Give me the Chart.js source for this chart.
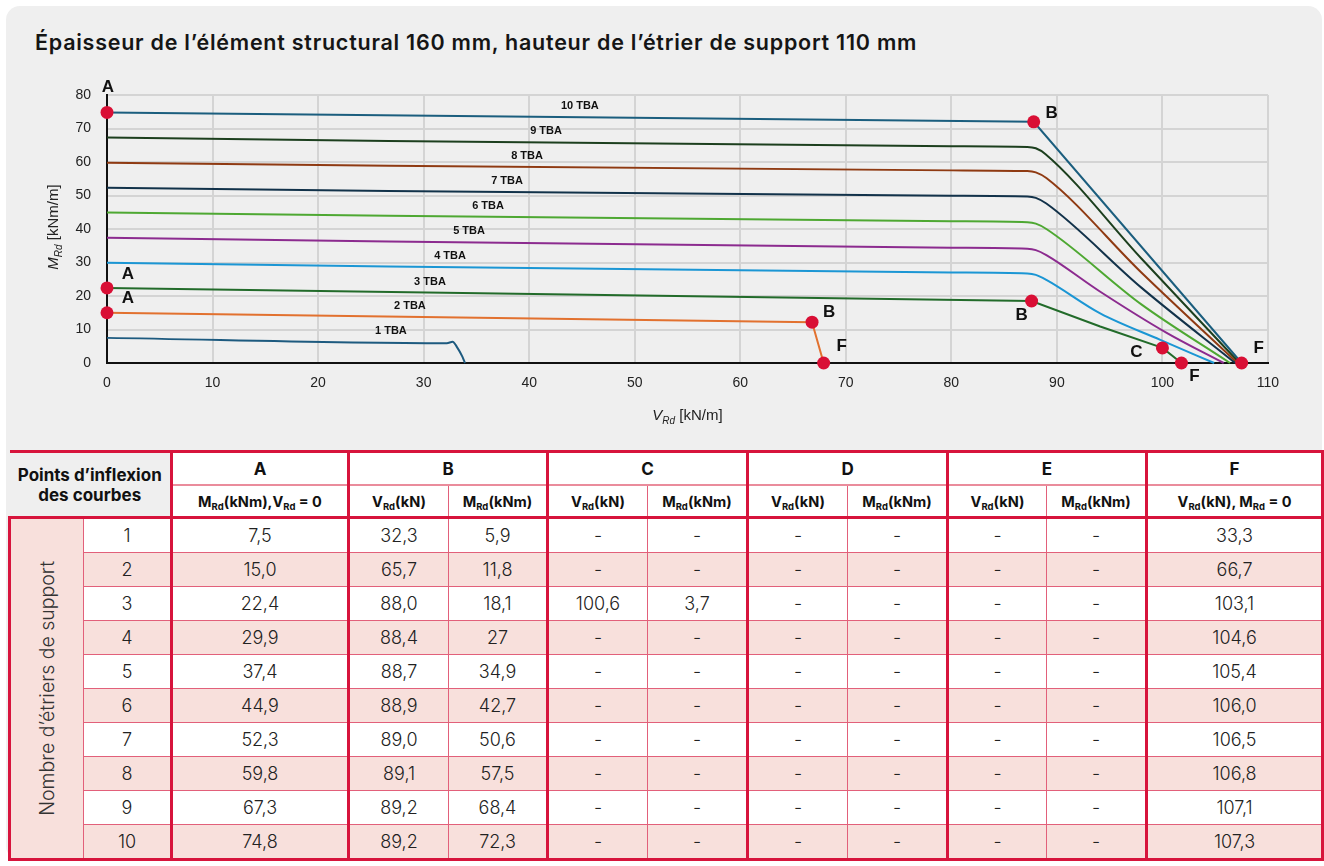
<!DOCTYPE html>
<html lang="fr">
<head>
<meta charset="utf-8">
<script src="https://cdn.jsdelivr.net/npm/chart.js@4.4.1/dist/chart.umd.min.js"></script>
<style>
  html, body { margin: 0; padding: 0; background: #fff; }
  body { width: 1324px; height: 866px; position: relative; overflow: hidden; font-family: Inter, "Noto Sans", sans-serif; }
  #panel { position: absolute; left: 6px; top: 6px; width: 1316px; height: 854px; background: #efefef; border-radius: 14px; }
  #title { position: absolute; left: 35px; top: 29px; font: 600 21.5px Inter, sans-serif; color: #151515; white-space: nowrap; letter-spacing: 0.75px; }
  #chart { position: absolute; left: 0; top: 0; }
  #tbl { position: absolute; left: 8px; top: 450px; width: 1313px; border-collapse: collapse; table-layout: fixed; }
  #tbl td { border: 1px solid #e2607a; text-align: center; padding: 0; color: #222; background: #fff; }
  #tbl tr.h1 td { height: 31px; border-top: 3px solid #d7143c; font: 700 17px Inter, sans-serif; color: #111; }
  #tbl tr.h2 td { height: 30px; border-top: 2px solid #ea8c9c; font: 700 14.5px Inter, sans-serif; color: #111; }
  #tbl tr.d td { height: 33px; font: 300 18px Inter, sans-serif; }
  #tbl tr.d.alt td { background: #f8e0dc; }
  #tbl tr.first td { border-top: 3px solid #d7143c; }
  #tbl tr.lastrow td { border-bottom: 3px solid #d7143c; }
  #tbl td.g { border-left: 3px solid #d7143c; }
  #tbl td.end { border-right: 3px solid #d7143c; }
  #tbl td.pts { border-top: hidden; border-left: hidden; background: #efefef; font: 700 15px Inter, sans-serif; line-height: 21px; color: #111; }
  #tbl td.rot { background: #f8e0dc !important; border-left: 3px solid #d7143c; border-bottom: 3px solid #d7143c; }
  #tbl td.rot div { writing-mode: vertical-rl; transform: rotate(180deg); margin: 0 auto; font: 300 19.5px Inter, sans-serif; color: #333; white-space: nowrap; }
  #tbl sub { font-size: 9.5px; vertical-align: baseline; position: relative; top: 3px; }
</style>
</head>
<body>
<div id="panel"></div>
<div id="title">Épaisseur de l’élément structural 160 mm, hauteur de l’étrier de support 110 mm</div>
<canvas id="chart" width="1324" height="440"></canvas>
<table id="tbl"></table>
<script>
// ---- Courbes d'interaction V_Rd / M_Rd (V en kN/m, M en kNm/m) ----
const v1 = [0, 32.2, 32.75, 33.13, 33.67, 33.92];
const m1 = [7.5, 5.9, 6.35, 4.9, 1.9, 0];
const v2 = [0, 66.8, 67.9];
const m2 = [15.0, 12.2, 0];
const v3 = [0, 87.6, 94.1, 100.0, 101.8];
const m3 = [22.4, 18.5, 10.9, 4.5, 0];
const v4 = [0, 80, 87.2, 88.0, 89.0, 94.1, 99.8, 104.9];
const m4 = [29.9, 27.0, 26.7, 26.3, 24.8, 14.8, 6.9, 0];
const v5 = [0, 80, 87.2, 88.0, 89.0, 94.0, 100.4, 105.8];
const m5 = [37.4, 34.4, 34.1, 33.7, 32.2, 21.5, 9.0, 0];
const v6 = [0, 80, 87.2, 88.0, 89.0, 98.0, 106.4];
const m6 = [44.9, 42.3, 42.0, 41.6, 40.0, 17.5, 0];
const v7 = [0, 80, 87.2, 88.0, 89.0, 98.0, 106.9];
const m7 = [52.3, 49.9, 49.7, 49.3, 47.6, 22.5, 0];
const v8 = [0, 80, 87.2, 88.0, 89.0, 98.0, 107.1];
const m8 = [59.8, 57.5, 57.3, 56.9, 55.2, 27.0, 0];
const v9 = [0, 80, 87.2, 88.0, 88.9, 98.0, 107.3];
const m9 = [67.3, 64.7, 64.5, 64.1, 62.4, 31.2, 0];
const v10 = [0, 87.8, 107.5];
const m10 = [74.8, 72.0, 0];

const curveNames = ['1 TBA', '2 TBA', '3 TBA', '4 TBA', '5 TBA', '6 TBA', '7 TBA', '8 TBA', '9 TBA', '10 TBA'];
const curveV = [v1, v2, v3, v4, v5, v6, v7, v8, v9, v10];
const curveM = [m1, m2, m3, m4, m5, m6, m7, m8, m9, m10];
const curveColors = ['#1d5a7f', '#e2712f', '#226b2a', '#1b96d4', '#8c2b8f', '#4ea832', '#12324a', '#8f3a12', '#1c3f1e', '#1b5e7e'];
const curveSmooth = [true, false, false, true, true, true, true, true, true, false];
// position (V) of each curve's name along its line
const curveLabelV = [26.9, 28.7, 30.6, 32.5, 34.3, 36.1, 37.9, 39.8, 41.6, 44.8];

// Points d'inflexion marqués sur le graphique
const pointNames = ['A', 'A', 'A', 'B', 'B', 'B', 'C', 'F', 'F', 'F'];
const pointV = [0, 0, 0, 87.8, 87.6, 66.8, 100.0, 101.8, 67.9, 107.5];
const pointM = [74.8, 22.4, 15.0, 72.0, 18.5, 12.2, 4.5, 0, 0, 0];

// Axes
const xTicksMax = 110;
const yTicksMax = 80;
const tickStep = 10;

// ---- Tableau ----
const rowNumbers = ['1', '2', '3', '4', '5', '6', '7', '8', '9', '10'];
const colA_M = ['7,5', '15,0', '22,4', '29,9', '37,4', '44,9', '52,3', '59,8', '67,3', '74,8'];
const colB_V = ['32,3', '65,7', '88,0', '88,4', '88,7', '88,9', '89,0', '89,1', '89,2', '89,2'];
const colB_M = ['5,9', '11,8', '18,1', '27', '34,9', '42,7', '50,6', '57,5', '68,4', '72,3'];
const colC_V = ['-', '-', '100,6', '-', '-', '-', '-', '-', '-', '-'];
const colC_M = ['-', '-', '3,7', '-', '-', '-', '-', '-', '-', '-'];
const colD_V = ['-', '-', '-', '-', '-', '-', '-', '-', '-', '-'];
const colD_M = ['-', '-', '-', '-', '-', '-', '-', '-', '-', '-'];
const colE_V = ['-', '-', '-', '-', '-', '-', '-', '-', '-', '-'];
const colE_M = ['-', '-', '-', '-', '-', '-', '-', '-', '-', '-'];
const colF_V = ['33,3', '66,7', '103,1', '104,6', '105,4', '106,0', '106,5', '106,8', '107,1', '107,3'];

// ---------------------------------------------------------------
const RED = '#d90f35';
const tickFont = { family: "'Liberation Sans', Arial, sans-serif", size: 14 };

const lineSets = curveNames.map((name, i) => ({
  label: name,
  data: curveV[i].map((v, k) => ({ x: v, y: curveM[i][k] })),
  borderColor: curveColors[i],
  borderWidth: 2,
  pointRadius: 0,
  fill: false,
  clip: false,
  tension: 0,
  cubicInterpolationMode: curveSmooth[i] ? 'monotone' : 'default',
  order: 1
}));

const markerSet = {
  label: 'points',
  data: pointV.map((v, k) => ({ x: v, y: pointM[k] })),
  showLine: false,
  pointRadius: 6.5,
  pointHoverRadius: 6.5,
  pointBackgroundColor: RED,
  pointBorderWidth: 0,
  clip: false,
  order: -1
};

// offsets (px) of the point letters from their marker
const letterOffsets = [[1, -25], [21, -14], [21, -14], [18, -8], [-10, 14], [17, -10], [-26, 4], [13, 13], [18, -17], [17, -15]];

function drawRich(ctx, parts, x, y) {
  let total = 0;
  parts.forEach(p => { ctx.font = p.font; total += ctx.measureText(p.text).width; });
  let cx = x - total / 2;
  parts.forEach(p => {
    ctx.font = p.font;
    ctx.fillText(p.text, cx, y + (p.dy || 0));
    cx += ctx.measureText(p.text).width;
  });
}

function interpM(i, v) {
  const xs = curveV[i], ys = curveM[i];
  for (let k = 0; k < xs.length - 1; k++) {
    if (v >= xs[k] && v <= xs[k + 1]) {
      const t = (v - xs[k]) / (xs[k + 1] - xs[k]);
      return ys[k] + t * (ys[k + 1] - ys[k]);
    }
  }
  return ys[ys.length - 1];
}

const annotations = {
  id: 'annotations',
  afterDatasetsDraw(chart) {
    const { ctx, scales: { x, y } } = chart;
    ctx.save();
    ctx.fillStyle = '#111';
    ctx.textAlign = 'center';
    ctx.textBaseline = 'middle';
    // curve names
    ctx.font = "bold 11px 'Liberation Sans', Arial, sans-serif";
    curveNames.forEach((name, i) => {
      const v = curveLabelV[i];
      ctx.fillText(name, x.getPixelForValue(v), y.getPixelForValue(interpM(i, v)) - 11);
    });
    // point letters
    ctx.font = "bold 17px 'Liberation Sans', Arial, sans-serif";
    pointNames.forEach((n, k) => {
      const px = x.getPixelForValue(pointV[k]) + letterOffsets[k][0];
      const py = y.getPixelForValue(pointM[k]) + letterOffsets[k][1];
      ctx.fillText(n, px, py);
    });
    // axis titles
    ctx.textAlign = 'left';
    ctx.textBaseline = 'alphabetic';
    ctx.fillStyle = '#222';
    const fam = "'Liberation Sans', Arial, sans-serif";
    drawRich(ctx, [
      { text: 'V', font: 'italic 15px ' + fam },
      { text: 'Rd', font: 'italic 10px ' + fam, dy: 4 },
      { text: ' [kN/m]', font: '15px ' + fam }
    ], (x.left + x.right) / 2, 420);
    ctx.save();
    ctx.translate(58, (y.top + y.bottom) / 2 - 2);
    ctx.rotate(-Math.PI / 2);
    drawRich(ctx, [
      { text: 'M', font: 'italic 15px ' + fam },
      { text: 'Rd', font: 'italic 10px ' + fam, dy: 4 },
      { text: ' [kNm/m]', font: '15px ' + fam }
    ], 0, 0);
    ctx.restore();
    ctx.restore();
  }
};

new Chart(document.getElementById('chart'), {
  type: 'line',
  data: { datasets: [markerSet, ...lineSets] },
  options: {
    responsive: false,
    animation: false,
    events: [],
    layout: { padding: { left: 0, right: 56, top: 95, bottom: 0 } },
    plugins: { legend: { display: false }, tooltip: { enabled: false }, title: { display: false } },
    scales: {
      x: {
        type: 'linear', min: 0, max: xTicksMax,
        ticks: { stepSize: tickStep, font: tickFont, color: '#222', padding: 12, maxRotation: 0 },
        grid: { color: '#d4d4d4', lineWidth: 2, drawTicks: false },
        border: { color: '#111', width: 2 },
        afterFit(s) { s.height = 77; }
      },
      y: {
        type: 'linear', min: 0, max: yTicksMax,
        ticks: { stepSize: tickStep, font: tickFont, color: '#222', padding: 16 },
        grid: { color: '#d4d4d4', lineWidth: 2, drawTicks: false },
        border: { color: '#111', width: 2 },
        afterFit(s) { s.width = 107; }
      }
    }
  },
  plugins: [annotations]
});

// ---- construction du tableau ----
const tbl = document.getElementById('tbl');
const widths = [74, 88, 177, 100, 99, 100, 100, 100, 100, 99, 100, 176];
let html = '<colgroup>' + widths.map(w => `<col style="width:${w}px">`).join('') + '</colgroup>';
html += '<tr class="h1"><td class="pts" colspan="2" rowspan="2">Points d’inflexion<br>des courbes</td>' +
  '<td class="g">A</td><td class="g" colspan="2">B</td><td class="g" colspan="2">C</td>' +
  '<td class="g" colspan="2">D</td><td class="g" colspan="2">E</td><td class="g end">F</td></tr>';
const vh = 'V<sub>Rd</sub>(kN)', mh = 'M<sub>Rd</sub>(kNm)';
html += '<tr class="h2"><td class="g">M<sub>Rd</sub>(kNm),V<sub>Rd</sub> = 0</td>' +
  `<td class="g">${vh}</td><td>${mh}</td><td class="g">${vh}</td><td>${mh}</td>` +
  `<td class="g">${vh}</td><td>${mh}</td><td class="g">${vh}</td><td>${mh}</td>` +
  '<td class="g end">V<sub>Rd</sub>(kN), M<sub>Rd</sub> = 0</td></tr>';
rowNumbers.forEach((n, r) => {
  const cls = ['d'];
  if (r % 2 === 1) cls.push('alt');
  if (r === 0) cls.push('first');
  if (r === rowNumbers.length - 1) cls.push('lastrow');
  html += `<tr class="${cls.join(' ')}">`;
  if (r === 0) html += `<td class="rot" rowspan="${rowNumbers.length}"><div>Nombre d’étriers de support</div></td>`;
  html += `<td>${n}</td><td class="g">${colA_M[r]}</td>` +
    `<td class="g">${colB_V[r]}</td><td>${colB_M[r]}</td>` +
    `<td class="g">${colC_V[r]}</td><td>${colC_M[r]}</td>` +
    `<td class="g">${colD_V[r]}</td><td>${colD_M[r]}</td>` +
    `<td class="g">${colE_V[r]}</td><td>${colE_M[r]}</td>` +
    `<td class="g end">${colF_V[r]}</td></tr>`;
});
tbl.innerHTML = html;
</script>
</body>
</html>
